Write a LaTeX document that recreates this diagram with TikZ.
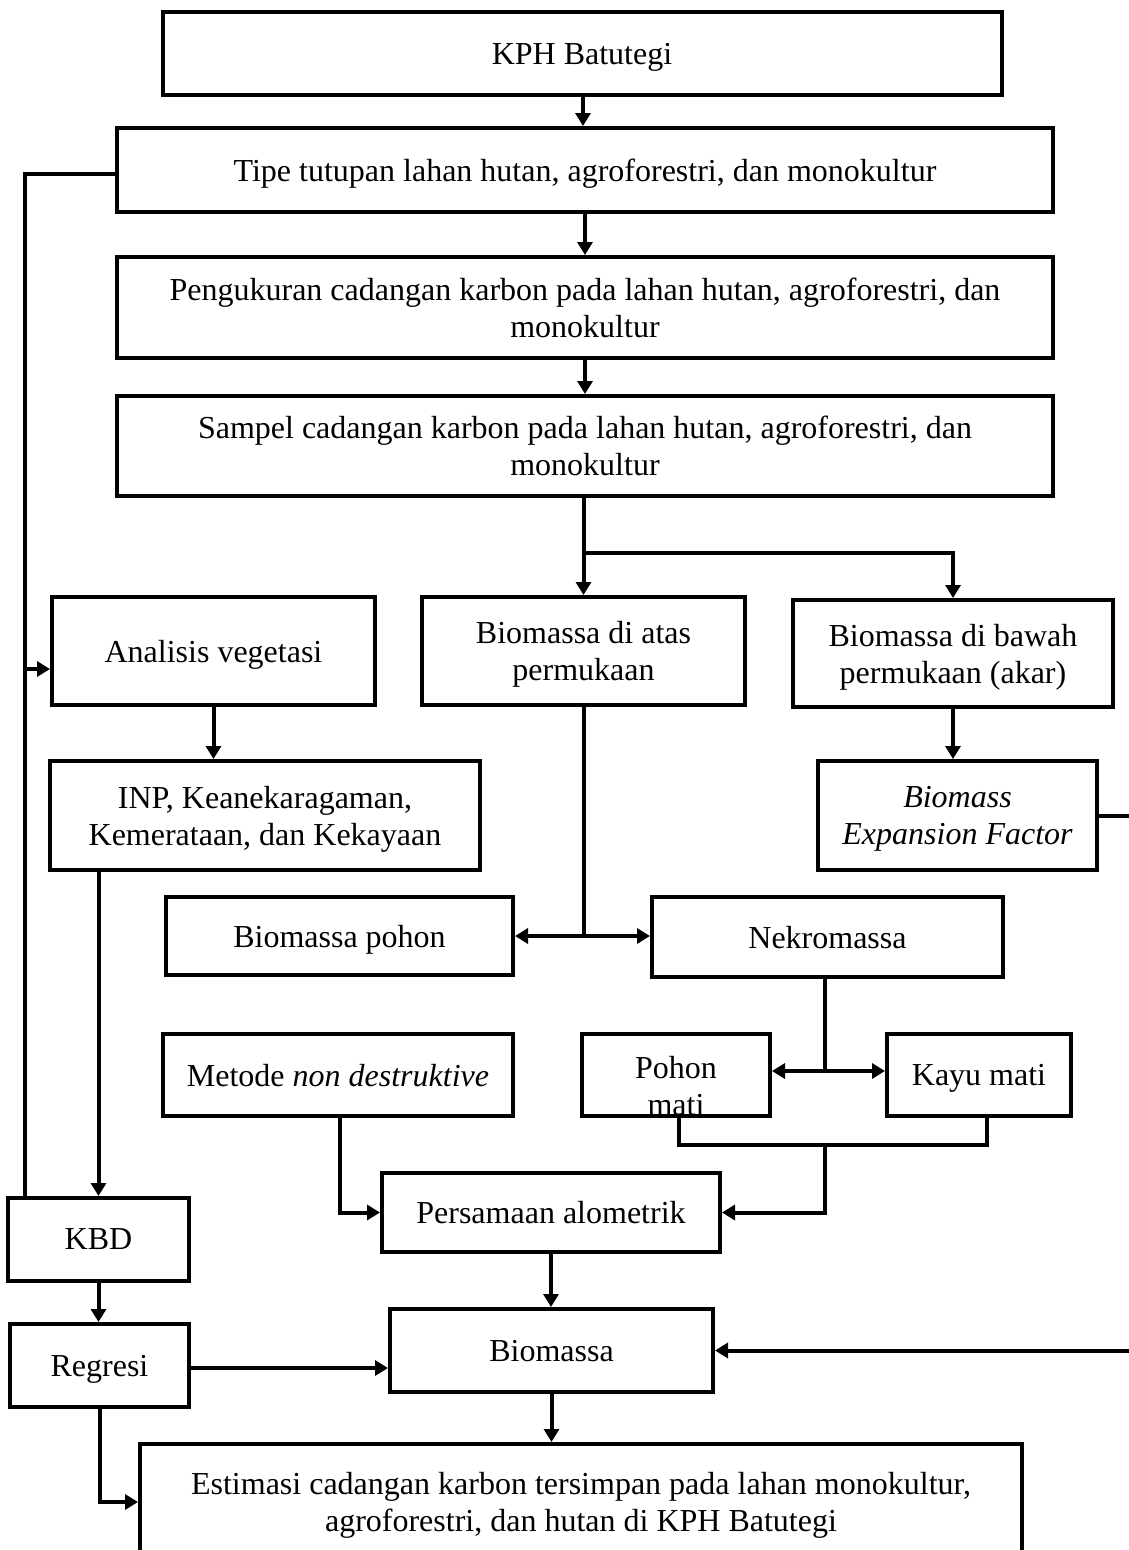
\documentclass[tikz,border=0pt]{standalone}
\usepackage{fontspec}
\setmainfont{Liberation Serif}
\usetikzlibrary{arrows.meta}
\begin{document}
\begin{tikzpicture}[x=1pt,y=-1pt,
  box/.style={draw=black,line width=4pt,fill=white,inner sep=0pt,align=center,
    text depth=0pt,font=\fontsize{32}{37}\selectfont},
  conn/.style={line width=4pt,line cap=rect},
  arr/.style={line width=4pt,-{Triangle[length=13pt,width=15pt]}}]
\useasboundingbox (0,0) rectangle (1129,1550);
% boxes
\node[box,minimum width=839pt,minimum height=83pt] (kph) at (582,53.5) {KPH Batutegi};
\node[box,minimum width=936pt,minimum height=84pt] (tipe) at (585,170) {Tipe tutupan lahan hutan, agroforestri, dan monokultur};
\node[box,minimum width=936pt,minimum height=101pt] (peng) at (585,307.5) {Pengukuran cadangan karbon pada lahan hutan, agroforestri, dan\\monokultur};
\node[box,minimum width=936pt,minimum height=100pt] (samp) at (585,446) {Sampel cadangan karbon pada lahan hutan, agroforestri, dan\\monokultur};
\node[box,minimum width=323pt,minimum height=108pt] (anal) at (213.5,651) {Analisis vegetasi};
\node[box,minimum width=323pt,minimum height=108pt] (atas) at (583.5,651) {Biomassa di atas\\permukaan};
\node[box,minimum width=320pt,minimum height=107pt] (bawah) at (953,653.5) {Biomassa di bawah\\permukaan (akar)};
\node[box,minimum width=430pt,minimum height=109pt] (inp) at (265,815.5) {INP, Keanekaragaman,\\Kemerataan, dan Kekayaan};
\node[box,minimum width=279pt,minimum height=109pt] (bef) at (957.5,815.5) {\itshape Biomass\\\itshape Expansion Factor};
\node[box,minimum width=347pt,minimum height=78pt] (bpohon) at (339.5,936) {Biomassa pohon};
\node[box,minimum width=351pt,minimum height=80pt] (nekro) at (827.5,937) {Nekromassa};
\node[box,minimum width=350pt,minimum height=82pt] (metode) at (338,1075) {Metode \textit{non destruktive}};
\node[box,minimum width=188pt,minimum height=82pt] (pm) at (676,1075) {};
\begin{scope}
\clip (584,1036) rectangle (768,1114);
\node[font=\fontsize{32}{37}\selectfont,align=center,inner sep=0pt,text depth=0pt] (pmtext) at (676,1086) {Pohon\\mati};
\end{scope}
\node[box,minimum width=184pt,minimum height=82pt] (kayu) at (979,1075) {Kayu mati};
\node[box,minimum width=338pt,minimum height=79pt] (pers) at (551,1212.5) {Persamaan alometrik};
\node[box,minimum width=323pt,minimum height=83pt] (bio) at (551.5,1350.5) {Biomassa};
\node[box,minimum width=181pt,minimum height=83pt] (kbd) at (98.5,1239.5) {KBD};
\node[box,minimum width=179pt,minimum height=83pt] (reg) at (99.5,1365.5) {Regresi};
\node[box,minimum width=882pt,minimum height=116pt] (est) at (581,1502) {Estimasi cadangan karbon tersimpan pada lahan monokultur,\\agroforestri, dan hutan di KPH Batutegi};
% helper coordinates
\coordinate (fbx) at (25,0);
\coordinate (a1) at (25,669);
\coordinate (j1) at (583.5,553);
\coordinate (j2) at (583.5,936);
\coordinate (j3) at (825,1071);
\coordinate (pmb) at (679,1145);
\coordinate (kyb) at (987,1145);
\coordinate (j4) at (825,1145);
\coordinate (re) at (1134,0);
% connectors
\draw[arr] (kph.south -| 583,0) -- (583,0 |- tipe.north);
\draw[arr] (tipe.south -| 585,0) -- (585,0 |- peng.north);
\draw[arr] (peng.south -| 585,0) -- (585,0 |- samp.north);
\draw[conn] (samp.south -| j1) -- (j1);
\draw[arr] (j1) -- (atas.north);
\draw[arr] (j1) -| (bawah.north);
\draw[conn] (tipe.west |- 0,174) -| (fbx |- kbd.north);
\draw[arr] (a1) -- (a1 -| anal.west);
\draw[arr] (anal.south) -- (anal.south |- inp.north);
\draw[arr] (kbd.north |- inp.south) -- (kbd.north);
\draw[arr] (bawah.south) -- (bawah.south |- bef.north);
\draw[arr] (bef.east) -- (bef.east -| re) |- (bio.east);
\draw[conn] (atas.south) -- (j2);
\draw[arr] (j2) -- (j2 -| bpohon.east);
\draw[arr] (j2) -- (j2 -| nekro.west);
\draw[conn] (j3 |- nekro.south) -- (j3);
\draw[arr] (j3) -- (j3 -| pm.east);
\draw[arr] (j3) -- (j3 -| kayu.west);
\draw[conn] (pmb |- pm.south) -- (pmb) -- (kyb) -- (kyb |- kayu.south);
\draw[arr] (j4) |- (pers.east);
\draw[arr] (metode.south -| 340,0) |- (pers.west);
\draw[arr] (pers.south) -- (pers.south |- bio.north);
\draw[arr] (kbd.south) -- (kbd.south |- reg.north);
\draw[arr] (reg.east |- 0,1368) -- (bio.west |- 0,1368);
\draw[arr] (reg.south) |- (est.west);
\draw[arr] (bio.south) -- (bio.south |- est.north);
\end{tikzpicture}
\end{document}
